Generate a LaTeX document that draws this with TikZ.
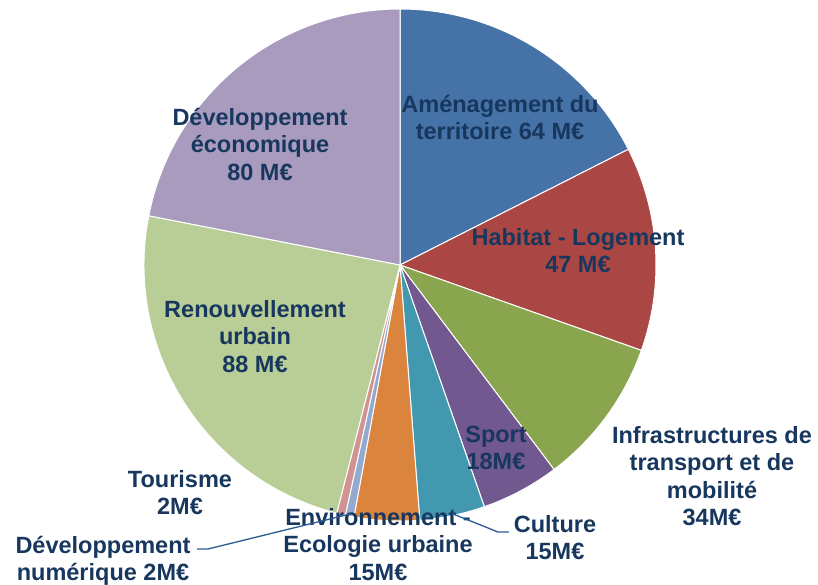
\documentclass[tikz,border=0pt]{standalone}
\usepackage{fontspec}
\setmainfont{Liberation Sans}
\usetikzlibrary{calc}
\definecolor{txt}{HTML}{17375E}
\definecolor{leadc}{HTML}{2A5B96}
\definecolor{cAme}{HTML}{4572A7}
\definecolor{cHab}{HTML}{AA4643}
\definecolor{cInf}{HTML}{89A54E}
\definecolor{cSpo}{HTML}{71588F}
\definecolor{cCul}{HTML}{4198AF}
\definecolor{cEnv}{HTML}{DB843D}
\definecolor{cNum}{HTML}{93A9CF}
\definecolor{cTou}{HTML}{D19392}
\definecolor{cRen}{HTML}{B9CD96}
\definecolor{cEco}{HTML}{A99BBD}
\newcommand\pieslice[3]{\filldraw[fill=#3, draw=white, line width=1pt, line join=round] (c) -- ($(c)+(#1:256pt)$) arc[start angle=#1, end angle=#2, radius=256pt] -- cycle;}
\newcommand\ml[1]{\begin{tabular}[t]{@{}c@{}}#1\end{tabular}}
\begin{document}
\begin{tikzpicture}[x=1pt,y=1pt,
  lbl/.style={anchor=base, inner sep=0pt, text=txt, font=\fontsize{23.5}{27.5}\selectfont\bfseries},
  leader/.style={draw=leadc, line width=1.3pt}]
\useasboundingbox (0,0) rectangle (818,-584);
\coordinate (c) at (400,-265);
\pieslice{90}{26.877}{cAme}
\pieslice{26.877}{-19.479}{cHab}
\pieslice{-19.479}{-53.014}{cInf}
\pieslice{-53.014}{-70.767}{cSpo}
\pieslice{-70.767}{-85.562}{cCul}
\pieslice{-85.562}{-100.356}{cEnv}
\pieslice{-100.356}{-102.329}{cNum}
\pieslice{-102.329}{-104.301}{cTou}
\pieslice{-104.301}{-191.096}{cRen}
\pieslice{-191.096}{-270}{cEco}

\node[lbl] (ame) at (500,-112) {\ml{Aménagement du\\territoire 64 M€}};
\node[lbl] (hab) at (578,-245) {\ml{Habitat - Logement\\47 M€}};
\node[lbl] (inf) at (712,-443) {\ml{Infrastructures de\\transport et de\\mobilité\\34M€}};
\node[lbl] (spo) at (496,-442) {\ml{Sport\\18M€}};
\node[lbl] (cul) at (555,-532) {\ml{Culture\\15M€}};
\node[lbl] (env) at (378,-525) {\ml{Environnement -\\Ecologie urbaine\\15M€}};
\node[lbl] (num) at (103,-553) {\ml{Développement\\numérique 2M€}};
\node[lbl] (tou) at (180,-487) {\ml{Tourisme\\2M€}};
\node[lbl] (ren) at (255,-317) {\ml{Renouvellement\\urbain\\88 M€}};
\node[lbl] (eco) at (260,-125) {\ml{Développement\\économique\\80 M€}};

\coordinate (culedge) at ($(c)+(-78.16:254pt)$);
\coordinate (culknee) at (498,-532);
\coordinate (culend) at (509,-532);
\draw[leader] (culedge) -- (culknee) -- (culend);
\coordinate (numedge) at ($(c)+(-101.34:254pt)$);
\coordinate (numknee) at (208,-549);
\coordinate (numend) at (197,-549);
\draw[leader] (numedge) -- (numknee) -- (numend);
\end{tikzpicture}
\end{document}
